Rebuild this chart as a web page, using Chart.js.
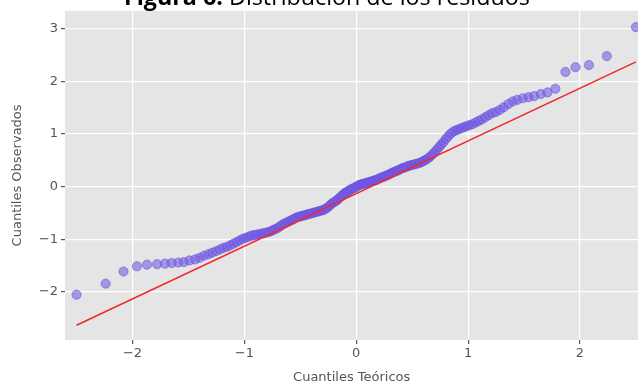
<!DOCTYPE html>
<html>
<head>
<meta charset="utf-8">
<script src="https://cdn.jsdelivr.net/npm/chart.js@4"></script>
<style>
  html, body { margin: 0; padding: 0; background: #fff; overflow: hidden; }
  #wrap { width: 638px; height: 385px; position: relative; overflow: hidden; }
</style>
</head>
<body>
<div id="wrap"><canvas id="qq" width="644" height="385"></canvas></div>
<script>
// theoretical quantiles (x) of the 160 residuals
const teoricos = [
  -2.50, -2.24, -2.08, -1.96, -1.87, -1.78, -1.71, -1.65, -1.59, -1.54,
  -1.49, -1.44, -1.40, -1.36, -1.32, -1.285, -1.25, -1.217, -1.185, -1.154,
  -1.124, -1.095, -1.068, -1.041, -1.014, -0.988, -0.963, -0.939, -0.915, -0.892,
  -0.869, -0.846, -0.824, -0.802, -0.781, -0.760, -0.740, -0.719, -0.699, -0.680,
  -0.660, -0.641, -0.622, -0.603, -0.584, -0.566, -0.548, -0.530, -0.512, -0.494,
  -0.477, -0.459, -0.442, -0.425, -0.408, -0.391, -0.374, -0.358, -0.341, -0.325,
  -0.308, -0.292, -0.276, -0.260, -0.244, -0.228, -0.212, -0.196, -0.180, -0.164,
  -0.149, -0.133, -0.117, -0.101, -0.086, -0.070, -0.055, -0.039, -0.023, -0.008,
  0.008, 0.023, 0.039, 0.055, 0.070, 0.086, 0.101, 0.117, 0.133, 0.149,
  0.164, 0.180, 0.196, 0.212, 0.228, 0.244, 0.260, 0.276, 0.292, 0.308,
  0.325, 0.341, 0.358, 0.374, 0.391, 0.408, 0.425, 0.442, 0.459, 0.477,
  0.494, 0.512, 0.530, 0.548, 0.566, 0.584, 0.603, 0.622, 0.641, 0.660,
  0.680, 0.699, 0.719, 0.740, 0.760, 0.781, 0.802, 0.824, 0.846, 0.869,
  0.892, 0.915, 0.939, 0.963, 0.988, 1.014, 1.041, 1.068, 1.095, 1.124,
  1.154, 1.185, 1.217, 1.25, 1.285, 1.32, 1.36, 1.40, 1.44, 1.49,
  1.54, 1.59, 1.65, 1.71, 1.78, 1.87, 1.96, 2.08, 2.24, 2.50
];

// observed (sorted) residuals (y)
const observados = [
  -2.05, -1.84, -1.61, -1.51, -1.48, -1.47, -1.46, -1.45, -1.44, -1.43,
  -1.40, -1.38, -1.35, -1.31, -1.28, -1.25, -1.22, -1.19, -1.16, -1.14,
  -1.11, -1.08, -1.05, -1.02, -0.99, -0.97, -0.95, -0.93, -0.92, -0.91,
  -0.90, -0.89, -0.88, -0.87, -0.86, -0.84, -0.82, -0.80, -0.78, -0.75,
  -0.72, -0.70, -0.68, -0.66, -0.64, -0.62, -0.60, -0.58, -0.57, -0.56,
  -0.55, -0.54, -0.53, -0.52, -0.51, -0.50, -0.49, -0.48, -0.47, -0.46,
  -0.45, -0.44, -0.42, -0.40, -0.37, -0.34, -0.31, -0.29, -0.27, -0.24,
  -0.21, -0.18, -0.15, -0.12, -0.10, -0.08, -0.06, -0.04, -0.03, -0.01,
  0.01, 0.03, 0.04, 0.05, 0.06, 0.07, 0.08, 0.09, 0.10, 0.11,
  0.12, 0.13, 0.15, 0.16, 0.18, 0.19, 0.20, 0.22, 0.23, 0.25,
  0.27, 0.28, 0.30, 0.31, 0.33, 0.35, 0.36, 0.37, 0.39, 0.40,
  0.41, 0.42, 0.43, 0.44, 0.45, 0.47, 0.49, 0.51, 0.54, 0.57,
  0.61, 0.65, 0.70, 0.75, 0.80, 0.85, 0.91, 0.96, 1.01, 1.05,
  1.07, 1.09, 1.11, 1.13, 1.15, 1.17, 1.19, 1.22, 1.25, 1.28,
  1.32, 1.36, 1.40, 1.42, 1.46, 1.51, 1.57, 1.62, 1.65, 1.68,
  1.70, 1.72, 1.76, 1.79, 1.86, 2.18, 2.27, 2.31, 2.48, 3.03
];

// fitted reference line, end points
const lineaX = [-2.50, 2.50];
const lineaY = [-2.63, 2.37];

const xTicks = [-2, -1, 0, 1, 2];
const yTicks = [-2, -1, 0, 1, 2, 3];

const tituloNegrita = 'Figura 6.';
const tituloResto = ' Distribución de los residuos';

const puntos = teoricos.map((x, i) => ({ x: x, y: observados[i] }));
const linea = lineaX.map((x, i) => ({ x: x, y: lineaY[i] }));

const fondo = {
  id: 'fondo',
  beforeDraw(chart) {
    const { ctx, chartArea: a } = chart;
    ctx.save();
    ctx.fillStyle = '#e5e5e5';
    ctx.fillRect(a.left, a.top, a.right - a.left, a.bottom - a.top);
    ctx.restore();
  },
  afterDraw(chart) {
    // title sits partly above the top of the picture, as in the source
    const ctx = chart.ctx;
    ctx.save();
    ctx.fillStyle = '#000';
    ctx.textBaseline = 'alphabetic';
    ctx.font = 'bold 20px "Open Sans"';
    let w1 = ctx.measureText(tituloNegrita).width;
    ctx.font = '20px "Open Sans"';
    let w2 = ctx.measureText(tituloResto).width;
    const size = 20 * 406 / (w1 + w2);
    w1 *= size / 20; w2 *= size / 20;
    const x = 327 - (w1 + w2) / 2;
    ctx.font = 'bold ' + size + 'px "Open Sans"';
    ctx.fillText(tituloNegrita, x, 5);
    ctx.font = size + 'px "Open Sans"';
    ctx.fillText(tituloResto, x + w1, 5);
    ctx.restore();
  }
};

const minus = v => String(v).replace('-', '\u2212');

new Chart(document.getElementById('qq'), {
  type: 'scatter',
  data: {
    datasets: [
      {
        type: 'line',
        data: linea,
        borderColor: '#ee2a2a',
        borderWidth: 1.6,
        pointRadius: 0,
        fill: false,
        order: 0
      },
      {
        data: puntos,
        backgroundColor: 'rgba(115, 90, 228, 0.58)',
        borderColor: 'rgba(100, 75, 218, 0.55)',
        borderWidth: 1,
        pointRadius: 4.6,
        order: 1
      }
    ]
  },
  options: {
    responsive: false,
    animation: false,
    devicePixelRatio: 1,
    layout: { padding: { top: 10, right: 0, bottom: 0, left: 0 } },
    plugins: { legend: { display: false }, tooltip: { enabled: false } },
    scales: {
      x: {
        type: 'linear',
        min: -2.603,
        max: 2.522,
        afterBuildTicks: s => { s.ticks = xTicks.map(v => ({ value: v })); },
        afterFit: s => { s.height = 45; },
        border: { display: false },
        grid: { color: '#ffffff', lineWidth: 1.2, tickColor: '#555', tickLength: 4, drawTicks: true },
        ticks: {
          color: '#555',
          font: { family: 'DejaVu Sans', size: 13 },
          padding: 2,
          callback: v => minus(v)
        },
        title: {
          display: true,
          text: 'Cuantiles Teóricos',
          color: '#555',
          font: { family: 'DejaVu Sans', size: 13 },
          padding: { top: 2, bottom: 0 }
        }
      },
      y: {
        type: 'linear',
        min: -2.91,
        max: 3.34,
        afterBuildTicks: s => { s.ticks = yTicks.map(v => ({ value: v })); },
        afterFit: s => { s.width = 65; },
        border: { display: false },
        grid: { color: '#ffffff', lineWidth: 1.2, tickColor: '#555', tickLength: 4, drawTicks: true },
        ticks: {
          color: '#555',
          font: { family: 'DejaVu Sans', size: 13 },
          padding: 3,
          callback: v => minus(v)
        },
        title: {
          display: true,
          text: 'Cuantiles Observados',
          color: '#555',
          font: { family: 'DejaVu Sans', size: 13 },
          padding: { top: 10, bottom: 0 }
        }
      }
    }
  },
  plugins: [fondo]
});
</script>
</body>
</html>
